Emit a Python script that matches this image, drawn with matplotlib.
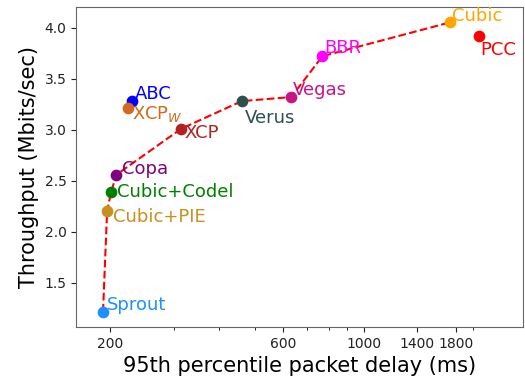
import matplotlib
matplotlib.use("Agg")
import matplotlib.pyplot as plt
from matplotlib.ticker import NullFormatter, FixedLocator, FixedFormatter

# 95th percentile delay (ms) and throughput (Mbits/sec) per scheme
schemes = ["Sprout", "Cubic+PIE", "Cubic+Codel", "Copa", "ABC", "XCP$_W$",
           "XCP", "Verus", "Vegas", "BBR", "Cubic", "PCC"]
delay = [191, 196, 201, 208, 230, 224, 314, 461, 631, 770, 1726, 2075]
tput = [1.22, 2.20, 2.39, 2.56, 3.28, 3.21, 3.01, 3.28, 3.32, 3.72, 4.05, 3.92]
colors = ["#1e90ff", "#c8901e", "green", "purple", "blue", "chocolate",
          "firebrick", "darkslategray", "mediumvioletred", "magenta",
          "orange", "red"]
# label offsets in points (dx, dy)
offsets = [(3, 5), (4, -4), (4, 0), (4, 4), (2, 5), (3, -4),
           (2, -3), (2, -12), (1, 5), (1, 6), (2, 5), (1, -10)]

# schemes on the efficient frontier, in order
frontier = ["Sprout", "Cubic+PIE", "Cubic+Codel", "Copa", "XCP", "Verus",
            "Vegas", "BBR", "Cubic"]

xticks = [200, 600, 1000, 1400, 1800]

fig = plt.figure(figsize=(5.25, 3.77), dpi=100)
ax = fig.add_axes([0.145, 0.133, 0.851, 0.848])

fx = [delay[schemes.index(s)] for s in frontier]
fy = [tput[schemes.index(s)] for s in frontier]
ax.plot(fx, fy, "--", color="red", lw=1.5, zorder=1)

for name, x, y, c, off in zip(schemes, delay, tput, colors, offsets):
    ax.scatter(x, y, s=55, color=c, zorder=2)
    ax.annotate(name, (x, y), xytext=off, textcoords="offset points",
                ha="left", va="center", color=c, fontsize=13)

ax.set_xscale("log")
ax.set_xlim(161, 2750)
ax.set_ylim(1.07, 4.2)
ax.xaxis.set_major_locator(FixedLocator(xticks))
ax.xaxis.set_major_formatter(FixedFormatter([str(t) for t in xticks]))
ax.xaxis.set_minor_formatter(NullFormatter())
ax.set_yticks([1.5, 2.0, 2.5, 3.0, 3.5, 4.0])
ax.tick_params(labelsize=10, colors="#222222")
for sp in ax.spines.values():
    sp.set_color("#666666")

ax.set_xlabel("95th percentile packet delay (ms)", fontsize=15)
ax.set_ylabel("Throughput (Mbits/sec)", fontsize=15)

fig.savefig("out.png", dpi=100)
